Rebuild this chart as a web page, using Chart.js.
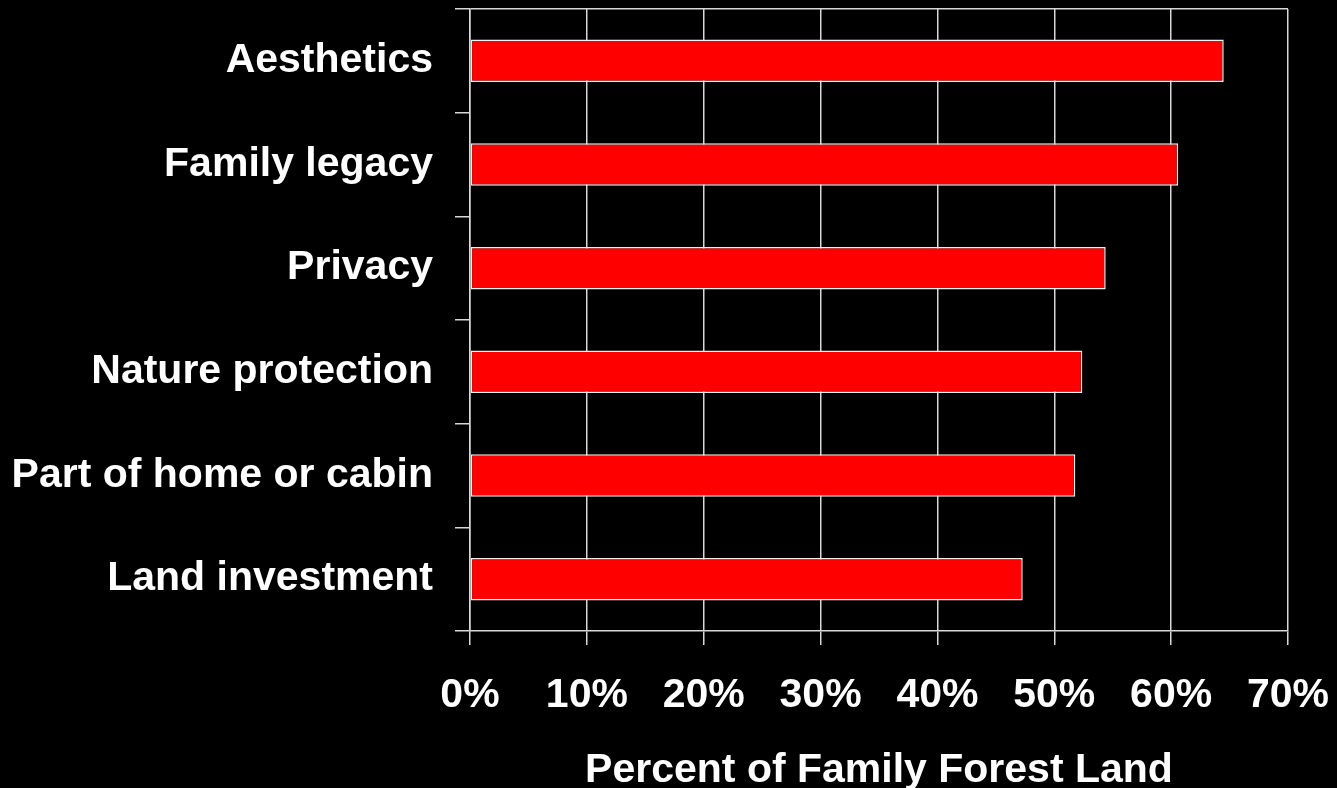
<!DOCTYPE html>
<html>
<head>
<meta charset="utf-8">
<script src="https://cdn.jsdelivr.net/npm/chart.js@4.4.1/dist/chart.umd.min.js"></script>
<style>
  html, body { margin: 0; padding: 0; background: #000; }
  #wrap { width: 1337px; height: 788px; position: relative; }
</style>
</head>
<body>
<div id="wrap"><canvas id="chart"></canvas></div>
<script>
// reasons for owning family forest land
const categories = ['Aesthetics', 'Family legacy', 'Privacy', 'Nature protection', 'Part of home or cabin', 'Land investment'];
const percentValues = [64.5, 60.6, 54.4, 52.4, 51.8, 47.3];
const xTicks = [0, 10, 20, 30, 40, 50, 60, 70];
const xTitle = 'Percent of Family Forest Land';

const lineCol = '#d8d8d8';
const font = { family: '"Liberation Sans", Arial, sans-serif', size: 41, weight: 'bold' };

const ctx = document.getElementById('chart').getContext('2d');
new Chart(ctx, {
    type: 'bar',
    data: {
        labels: categories,
        datasets: [{
            data: percentValues,
            backgroundColor: '#ff0000',
            borderColor: '#f0f0f0',
            borderWidth: 1.5,
            borderSkipped: false,
            categoryPercentage: 1,
            barPercentage: 0.41
        }]
    },
    options: {
        indexAxis: 'y',
        responsive: true,
        maintainAspectRatio: false,
        animation: false,
        layout: { padding: { top: 9, right: 49, left: 0, bottom: 0 } },
        plugins: {
            legend: { display: false },
            tooltip: { enabled: false }
        },
        scales: {
            x: {
                min: xTicks[0],
                max: xTicks[xTicks.length - 1],
                afterBuildTicks: s => { s.ticks = xTicks.map(v => ({ value: v })); },
                afterFit: s => { s.height = 157; s.paddingRight = 0; s.paddingLeft = 0; },
                border: { color: lineCol, width: 1.5 },
                grid: { color: lineCol, lineWidth: 1.5, tickLength: 14, tickColor: lineCol },
                ticks: {
                    color: '#ffffff',
                    font: font,
                    padding: 26,
                    maxRotation: 0,
                    callback: v => v + '%'
                },
                title: {
                    display: true,
                    text: xTitle,
                    color: '#ffffff',
                    font: { ...font, lineHeight: 1 },
                    padding: { top: 0, bottom: -3 }
                }
            },
            y: {
                offset: true,
                afterFit: s => { s.width = 470; s.paddingTop = 0; s.paddingBottom = 0; },
                border: { color: lineCol, width: 1.5 },
                grid: {
                    offset: true,
                    color: c => (c.index === 0 ? lineCol : 'transparent'),
                    lineWidth: 1.5,
                    tickLength: 15,
                    tickColor: lineCol
                },
                ticks: {
                    color: '#ffffff',
                    font: font,
                    padding: 22
                }
            }
        }
    }
});
</script>
</body>
</html>
